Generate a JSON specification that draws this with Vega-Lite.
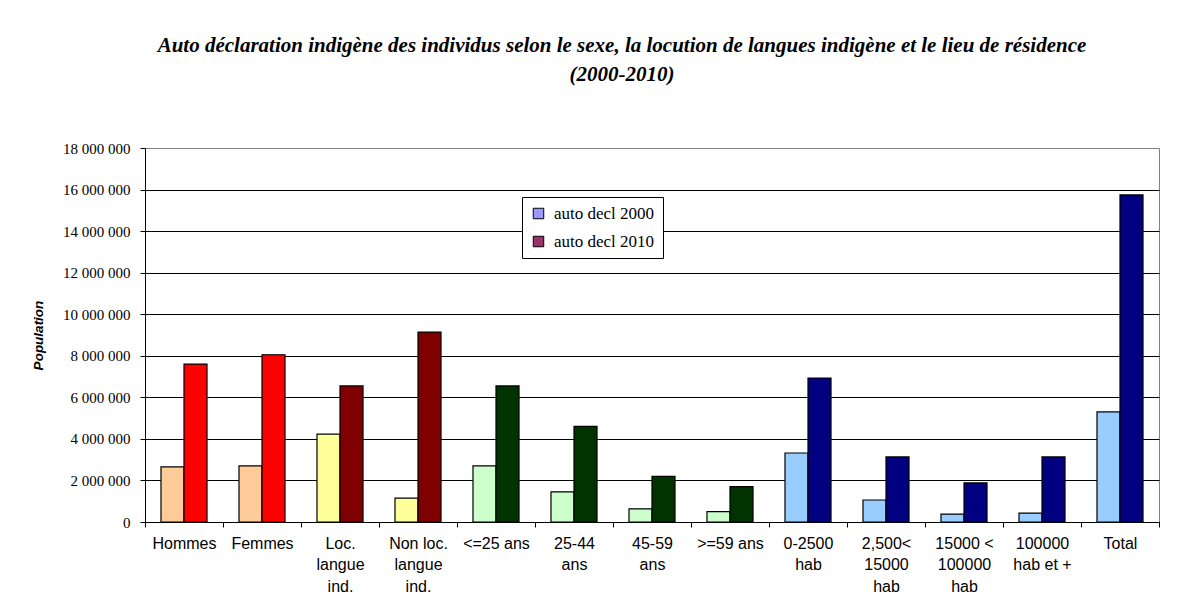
{
  "$schema": "https://vega.github.io/schema/vega-lite/v6.json",
  "width": 1014,
  "height": 374,
  "autosize": {"type": "none"},
  "padding": {"left": 145, "top": 148, "right": 38, "bottom": 90},
  "background": "white",
  "title": {
    "text": ["Auto déclaration indigène des individus selon le sexe, la locution de langues indigène et le lieu de résidence", "(2000-2010)"],
    "font": "Liberation Serif",
    "fontSize": 21,
    "fontWeight": "bold",
    "fontStyle": "italic",
    "color": "black",
    "anchor": "middle",
    "frame": "group",
    "dx": -30,
    "offset": 56,
    "lineHeight": 29
  },
  "data": {
    "values": [
      {"cat": "Hommes", "groupe": "sexe", "serie": "auto decl 2000", "val": 2650000},
      {"cat": "Hommes", "groupe": "sexe", "serie": "auto decl 2010", "val": 7600000},
      {"cat": "Femmes", "groupe": "sexe", "serie": "auto decl 2000", "val": 2700000},
      {"cat": "Femmes", "groupe": "sexe", "serie": "auto decl 2010", "val": 8050000},
      {"cat": "Loc.\nlangue\nind.", "groupe": "langue", "serie": "auto decl 2000", "val": 4230000},
      {"cat": "Loc.\nlangue\nind.", "groupe": "langue", "serie": "auto decl 2010", "val": 6550000},
      {"cat": "Non loc.\nlangue\nind.", "groupe": "langue", "serie": "auto decl 2000", "val": 1150000},
      {"cat": "Non loc.\nlangue\nind.", "groupe": "langue", "serie": "auto decl 2010", "val": 9140000},
      {"cat": "<=25 ans", "groupe": "age", "serie": "auto decl 2000", "val": 2700000},
      {"cat": "<=25 ans", "groupe": "age", "serie": "auto decl 2010", "val": 6550000},
      {"cat": "25-44\nans", "groupe": "age", "serie": "auto decl 2000", "val": 1450000},
      {"cat": "25-44\nans", "groupe": "age", "serie": "auto decl 2010", "val": 4600000},
      {"cat": "45-59\nans", "groupe": "age", "serie": "auto decl 2000", "val": 630000},
      {"cat": "45-59\nans", "groupe": "age", "serie": "auto decl 2010", "val": 2200000},
      {"cat": ">=59 ans", "groupe": "age", "serie": "auto decl 2000", "val": 500000},
      {"cat": ">=59 ans", "groupe": "age", "serie": "auto decl 2010", "val": 1700000},
      {"cat": "0-2500\nhab", "groupe": "residence", "serie": "auto decl 2000", "val": 3320000},
      {"cat": "0-2500\nhab", "groupe": "residence", "serie": "auto decl 2010", "val": 6930000},
      {"cat": "2,500<\n15000\nhab", "groupe": "residence", "serie": "auto decl 2000", "val": 1060000},
      {"cat": "2,500<\n15000\nhab", "groupe": "residence", "serie": "auto decl 2010", "val": 3130000},
      {"cat": "15000 <\n100000\nhab", "groupe": "residence", "serie": "auto decl 2000", "val": 380000},
      {"cat": "15000 <\n100000\nhab", "groupe": "residence", "serie": "auto decl 2010", "val": 1880000},
      {"cat": "100000\nhab et +", "groupe": "residence", "serie": "auto decl 2000", "val": 430000},
      {"cat": "100000\nhab et +", "groupe": "residence", "serie": "auto decl 2010", "val": 3130000},
      {"cat": "Total", "groupe": "residence", "serie": "auto decl 2000", "val": 5300000},
      {"cat": "Total", "groupe": "residence", "serie": "auto decl 2010", "val": 15740000}
    ]
  },
  "transform": [
    {"calculate": "datum.groupe + '|' + datum.serie", "as": "cle"}
  ],
  "encoding": {
    "x": {
      "field": "cat",
      "type": "nominal",
      "sort": null,
      "scale": {"paddingInner": 0, "paddingOuter": 0},
      "axis": {
        "title": null,
        "labelAngle": 0,
        "labelFont": "Liberation Sans",
        "labelFontSize": 16,
        "labelColor": "black",
        "labelExpr": "split(datum.label, '\\n')",
        "labelLineHeight": 21.5,
        "labelBaseline": "top",
        "labelPadding": 8,
        "labelOverlap": false,
        "labelLimit": 0,
        "tickBand": "extent",
        "tickColor": "black",
        "tickSize": 5,
        "domainColor": "black",
        "grid": false
      }
    },
    "xOffset": {
      "field": "serie",
      "type": "nominal",
      "scale": {"paddingInner": 0, "paddingOuter": 0.695}
    },
    "y": {
      "field": "val",
      "type": "quantitative",
      "scale": {"domain": [0, 18000000], "nice": false},
      "axis": {
        "title": "Population",
        "titleFont": "Liberation Sans",
        "titleFontSize": 13.5,
        "titleFontWeight": "bold",
        "titleFontStyle": "italic",
        "titleColor": "black",
        "titleAngle": -90,
        "titleAlign": "center",
        "titleBaseline": "middle",
        "titleX": -107,
        "titleY": 187,
        "values": [0, 2000000, 4000000, 6000000, 8000000, 10000000, 12000000, 14000000, 16000000, 18000000],
        "labelExpr": "replace(format(datum.value, ','), regexp(',', 'g'), ' ')",
        "labelFont": "Liberation Serif",
        "labelFontSize": 15,
        "labelColor": "black",
        "labelPadding": 10,
        "tickColor": "black",
        "tickSize": 5,
        "domainColor": "black",
        "grid": true,
        "gridColor": {"condition": {"test": "datum.value == 18000000", "value": "#808080"}, "value": "black"},
        "gridWidth": 1
      }
    }
  },
  "layer": [
    {
      "mark": {"type": "bar"},
      "encoding": {
        "color": {
          "field": "serie",
          "type": "nominal",
          "scale": {"domain": ["auto decl 2000", "auto decl 2010"], "range": ["#9999FF", "#993366"]},
          "legend": {
            "title": null,
            "orient": "none",
            "legendX": 377,
            "legendY": 49,
            "strokeColor": "black",
            "fillColor": "white",
            "padding": 8,
            "labelFont": "Liberation Serif",
            "labelFontSize": 17,
            "labelColor": "black",
            "labelOffset": 7,
            "symbolType": "square",
            "symbolSize": 110,
            "symbolStrokeColor": "black",
            "symbolStrokeWidth": 1,
            "symbolOpacity": 1,
            "rowPadding": 10
          }
        }
      }
    },
    {
      "mark": {"type": "bar", "stroke": "black", "strokeWidth": 1.2},
      "encoding": {
        "fill": {
          "field": "cle",
          "type": "nominal",
          "scale": {
            "domain": ["sexe|auto decl 2000", "sexe|auto decl 2010", "langue|auto decl 2000", "langue|auto decl 2010", "age|auto decl 2000", "age|auto decl 2010", "residence|auto decl 2000", "residence|auto decl 2010"],
            "range": ["#FFCC99", "#FF0000", "#FFFF99", "#800000", "#CCFFCC", "#003300", "#99CCFF", "#000080"]
          },
          "legend": null
        }
      }
    }
  ],
  "config": {
    "view": {"stroke": "#808080", "strokeWidth": 1},
    "axis": {"domainWidth": 1, "tickWidth": 1}
  }
}
